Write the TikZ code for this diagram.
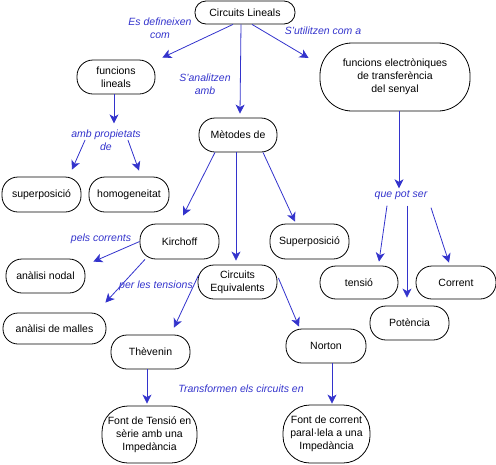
\documentclass[tikz,border=0pt]{standalone}
\usepackage{fontspec}
\setmainfont{Liberation Sans}
\usetikzlibrary{arrows.meta}
\definecolor{linkblue}{RGB}{51,51,204}
\tikzset{
	concept/.style={draw, line width=0.8pt, rounded corners=16pt, minimum width=79pt, minimum height=34pt, align=center, inner sep=1pt, font=\fontsize{10.5}{13}\selectfont},
	phrase/.style={text=linkblue, align=center, inner sep=0pt, font=\fontsize{10.5}{13}\selectfont\itshape},
	link/.style={draw=linkblue, line width=0.8pt, -{Stealth[length=9pt,width=9pt,inset=2.5pt]}}
}
\begin{document}
\begin{tikzpicture}[x=1pt,y=-1pt]
				\useasboundingbox (0,0) rectangle (496,464);
				\node[concept, minimum width=100pt, minimum height=23pt, rounded corners=11pt] (cl) at (245,12.5) {Circuits Lineals};
				\node[concept, minimum width=78pt] (fl) at (116,77) {funcions\\lineals};
				\node[concept, minimum width=150pt, minimum height=68pt, rounded corners=32pt] (fe) at (395,77) {funcions electròniques\\de transferència\\del senyal};
				\node[concept, minimum width=78pt] (md) at (238,135) {Mètodes de};
				\node[concept, minimum height=35pt] (sup) at (41.5,194.5) {superposició};
				\node[concept, minimum width=80pt, minimum height=35pt] (hom) at (129,194.5) {homogeneitat};
				\node[concept, minimum height=35pt] (kir) at (179.5,241.5) {Kirchoff};
				\node[concept, minimum height=35pt] (sp) at (309.5,241.5) {Superposició};
				\node[concept] (an) at (45.5,276) {anàlisi nodal};
				\node[concept] (ce) at (237.5,282) {Circuits\\Equivalents};
				\node[concept, minimum width=103pt, minimum height=31pt, rounded corners=15pt] (am) at (54.5,328.5) {anàlisi de malles};
				\node[concept, minimum width=78pt, minimum height=33pt] (ten) at (359,282.5) {tensió};
				\node[concept, minimum width=80pt, minimum height=33pt] (cor) at (456,282.5) {Corrent};
				\node[concept] (pot) at (409.5,323) {Potència};
				\node[concept] (thv) at (150.5,352) {Thèvenin};
				\node[concept, minimum width=80pt] (nor) at (326,346) {Norton};
				\node[concept, minimum width=95pt, minimum height=57pt, rounded corners=26pt] (fts) at (149.5,434.5) {Font de Tensió en\\sèrie amb una\\Impedància};
				\node[concept, minimum width=87pt, minimum height=58pt, rounded corners=27pt] (fcp) at (326.5,434) {Font de corrent\\paral·lela a una\\Impedància};
				% frases d'enllac
				\node[phrase] (esd) at (160,28) {Es defineixen\\com};
				\node[phrase] (san) at (205,84) {S'analitzen\\amb};
				\node[phrase] (sut) at (323,31) {S'utilitzen com a};
				\node[phrase] (amb) at (106,140) {amb propietats\\de};
				\node[phrase] (pco) at (101,239) {pels corrents};
				\node[phrase] (pte) at (156,286) {per les tensions};
				\node[phrase] (qps) at (401,195) {que pot ser};
				\node[phrase] (tra) at (241,389) {Transformen els circuits en};
				% connectors
				\draw[link] ([xshift=-12pt]cl.south) -- ([shift={(7pt,2pt)}]fl.north east);
				\draw[link] ([xshift=-4pt]cl.south) -- ([shift={(2pt,4pt)}]md.north);
				\draw[link] ([xshift=7pt]cl.south) -- ([shift={(-11pt,19pt)}]fe.west);
				\draw[link] ([xshift=-2pt]fl.south) -- ([shift={(8pt,6pt)}]amb.north);
				\draw[link] ([xshift=14pt]amb.west) -- ([shift={(30.5pt,7pt)}]sup.north);
				\draw[link] ([xshift=-13pt]amb.east) -- ([shift={(10pt,6pt)}]hom.north);
				\draw[link] ([xshift=-23pt]md.south) -- ([shift={(3.5pt,8pt)}]kir.north);
				\draw[link] ([xshift=-2pt]md.south) -- ([shift={(-1.5pt,4pt)}]ce.north);
				\draw[link] ([xshift=25pt]md.south) -- ([shift={(-14.5pt,2pt)}]sp.north);
				\draw[link] (kir.west) -- ([shift={(8pt,-3pt)}]an.north east);
				\draw[link] ([xshift=-34.5pt]kir.south) -- ([shift={(-1pt,10pt)}]am.north east);
				\draw[link] ([shift={(1pt,7pt)}]ce.west) -- ([shift={(23.5pt,7pt)}]thv.north);
				\draw[link] ([shift={(1pt,4pt)}]ce.east) -- ([shift={(-27pt,2pt)}]nor.north);
				\draw[link] ([xshift=-3.5pt]thv.south) -- ([shift={(-2.5pt,2pt)}]fts.north);
				\draw[link] ([xshift=6pt]nor.south) -- ([shift={(5.5pt,1pt)}]fcp.north);
				\draw[link] ([xshift=4pt]fe.south) -- ([shift={(-2pt,2pt)}]qps.north);
				\draw[link] ([shift={(-14pt,-6pt)}]qps.south) -- ([shift={(20pt,4pt)}]ten.north);
				\draw[link] ([shift={(6pt,-6pt)}]qps.south) -- ([shift={(-2.5pt,8pt)}]pot.north);
				\draw[link] ([shift={(30pt,-8pt)}]qps.south) -- ([shift={(-7pt,3pt)}]cor.north);
			\end{tikzpicture}
\end{document}
